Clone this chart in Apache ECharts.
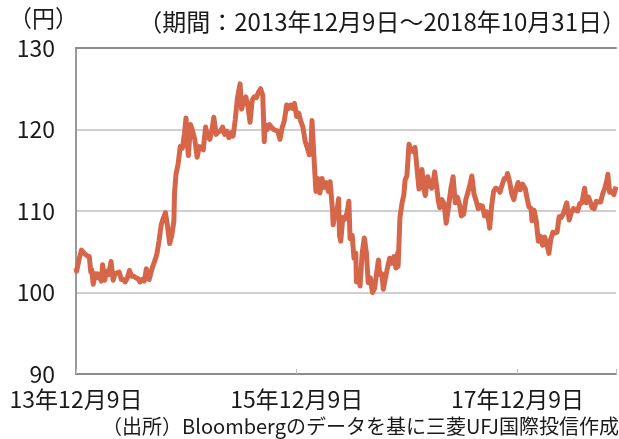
<!DOCTYPE html>
<html>
<head>
<meta charset="utf-8">
<script src="https://cdn.jsdelivr.net/npm/echarts@6/dist/echarts.min.js"></script>
<style>html,body{margin:0;padding:0;background:#fff;}#chart{width:619px;height:439px;}</style>
</head>
<body>
<div id="chart"></div>
<script>
const startDate = '2013-12-09';
const endDate = '2018-10-31';
const tickLabels = ['13年12月9日', '15年12月9日', '17年12月9日'];
const yTicks = [90, 100, 110, 120, 130];
const unitLabel = '（円）';
const periodLabel = '（期間：2013年12月9日～2018年10月31日）';
const sourceLabel = '（出所）Bloombergのデータを基に三菱UFJ国際投信作成';

const dates = [
'2013-12-09','2013-12-11','2013-12-20','2013-12-27','2014-01-02','2014-01-08','2014-01-15','2014-01-22','2014-01-27','2014-01-30',
'2014-02-04','2014-02-10','2014-02-14','2014-02-19','2014-02-24','2014-03-03','2014-03-07','2014-03-14','2014-03-20','2014-03-27',
'2014-04-04','2014-04-11','2014-04-17','2014-04-24','2014-05-01','2014-05-08','2014-05-15','2014-05-21','2014-05-28','2014-06-04',
'2014-06-11','2014-06-18','2014-06-25','2014-07-02','2014-07-09','2014-07-16','2014-07-23','2014-07-30','2014-08-08','2014-08-14',
'2014-08-20','2014-08-27','2014-09-03','2014-09-10','2014-09-17','2014-09-22','2014-09-26','2014-10-01','2014-10-08','2014-10-15',
'2014-10-22','2014-10-29','2014-10-31','2014-11-05','2014-11-12','2014-11-19','2014-11-26','2014-12-03','2014-12-08','2014-12-12',
'2014-12-16','2014-12-23','2014-12-30','2015-01-06','2015-01-14','2015-01-21','2015-01-28','2015-02-03','2015-02-11','2015-02-18',
'2015-02-25','2015-03-04','2015-03-10','2015-03-18','2015-03-25','2015-04-01','2015-04-08','2015-04-15','2015-04-22','2015-04-29',
'2015-05-06','2015-05-13','2015-05-20','2015-05-27','2015-06-05','2015-06-10','2015-06-17','2015-06-24','2015-07-01','2015-07-08',
'2015-07-15','2015-07-22','2015-07-29','2015-08-05','2015-08-12','2015-08-19','2015-08-24','2015-08-27','2015-09-03','2015-09-10',
'2015-09-17','2015-09-24','2015-10-01','2015-10-08','2015-10-15','2015-10-22','2015-10-29','2015-11-06','2015-11-13','2015-11-19',
'2015-11-26','2015-12-02','2015-12-09','2015-12-16','2015-12-23','2015-12-30','2016-01-06','2016-01-13','2016-01-20','2016-01-26',
'2016-01-29','2016-02-03','2016-02-11','2016-02-17','2016-02-24','2016-03-02','2016-03-09','2016-03-16','2016-03-23','2016-03-29',
'2016-04-06','2016-04-08','2016-04-13','2016-04-20','2016-04-26','2016-04-29','2016-05-03','2016-05-10','2016-05-17','2016-05-24',
'2016-05-30','2016-06-03','2016-06-10','2016-06-16','2016-06-22','2016-06-24','2016-06-29','2016-07-06','2016-07-13','2016-07-20',
'2016-07-27','2016-08-02','2016-08-09','2016-08-16','2016-08-23','2016-08-30','2016-09-05','2016-09-09','2016-09-16','2016-09-21',
'2016-09-27','2016-10-04','2016-10-12','2016-10-19','2016-10-26','2016-11-02','2016-11-08','2016-11-09','2016-11-15','2016-11-22',
'2016-11-28','2016-12-02','2016-12-08','2016-12-15','2016-12-20','2016-12-28','2017-01-04','2017-01-11','2017-01-17','2017-01-24',
'2017-01-27','2017-02-02','2017-02-07','2017-02-15','2017-02-22','2017-02-28','2017-03-07','2017-03-10','2017-03-16','2017-03-22',
'2017-03-27','2017-04-03','2017-04-10','2017-04-17','2017-04-24','2017-05-02','2017-05-10','2017-05-17','2017-05-24','2017-05-31',
'2017-06-06','2017-06-14','2017-06-21','2017-06-28','2017-07-05','2017-07-11','2017-07-18','2017-07-25','2017-08-01','2017-08-08',
'2017-08-15','2017-08-22','2017-08-29','2017-09-05','2017-09-08','2017-09-14','2017-09-21','2017-09-28','2017-10-05','2017-10-12',
'2017-10-19','2017-10-26','2017-11-02','2017-11-06','2017-11-13','2017-11-20','2017-11-27','2017-12-04','2017-12-11','2017-12-18',
'2017-12-26','2018-01-04','2018-01-10','2018-01-16','2018-01-23','2018-01-26','2018-02-02','2018-02-09','2018-02-16','2018-02-23',
'2018-03-02','2018-03-09','2018-03-16','2018-03-23','2018-03-29','2018-04-05','2018-04-12','2018-04-19','2018-04-26','2018-05-03',
'2018-05-10','2018-05-21','2018-05-29','2018-06-05','2018-06-12','2018-06-19','2018-06-26','2018-07-03','2018-07-10','2018-07-19',
'2018-07-25','2018-08-01','2018-08-08','2018-08-13','2018-08-20','2018-08-27','2018-09-03','2018-09-10','2018-09-17','2018-09-24',
'2018-10-01','2018-10-04','2018-10-10','2018-10-17','2018-10-24','2018-10-31'
];
const values = [
103.0,102.6,104.2,105.2,105.0,104.7,104.5,104.4,102.5,102.8,
101.0,102.3,101.8,102.3,102.4,101.4,103.4,101.5,102.6,102.2,
103.8,101.5,102.3,102.4,102.5,101.6,101.6,101.3,101.8,102.7,
102.0,102.0,101.8,101.7,101.3,101.6,101.4,102.9,101.6,102.4,
103.2,103.9,104.8,106.4,108.3,108.9,109.3,109.8,108.1,106.0,
107.0,108.8,112.2,114.5,115.8,117.9,117.7,119.5,121.4,118.5,
116.8,120.6,119.8,118.8,116.6,117.9,117.8,117.5,120.3,119.1,
118.8,120.0,121.5,119.4,119.7,119.8,120.3,119.4,119.8,119.0,
119.6,119.2,121.2,123.8,125.6,122.5,123.5,124.0,122.8,120.9,
123.6,124.0,123.9,124.6,125.0,124.2,118.5,120.6,120.0,120.6,
120.3,120.0,119.9,119.8,118.8,120.2,121.0,123.0,122.6,123.0,
122.6,123.2,121.6,122.0,121.0,120.3,118.6,117.8,116.9,118.3,
121.1,117.6,112.4,114.0,112.2,114.0,112.9,113.5,112.4,113.6,
110.0,108.3,109.4,109.8,111.5,107.0,106.3,109.2,109.0,109.8,
111.2,106.6,107.0,104.2,104.8,101.3,102.5,100.8,104.8,106.7,
104.9,101.2,101.8,100.0,100.5,102.4,104.0,102.2,102.3,100.4,
100.6,102.9,104.2,103.6,104.4,103.0,104.9,103.2,109.2,111.0,
112.0,113.8,114.3,118.2,117.6,117.3,117.8,115.0,112.7,113.5,
115.1,112.7,111.9,114.2,113.3,112.8,114.0,114.8,113.1,111.3,
110.4,111.4,110.9,108.5,110.3,112.6,114.2,111.0,111.7,110.8,
109.4,109.6,111.4,112.3,113.3,114.3,112.1,111.3,110.3,110.7,
110.6,109.4,109.9,108.7,107.9,110.5,112.4,112.8,112.7,112.3,
113.2,114.0,114.0,114.6,113.6,112.1,111.4,112.6,113.5,112.6,
113.3,112.7,111.5,110.5,110.3,108.8,110.1,108.8,106.3,106.9,
105.8,106.8,106.0,104.8,106.5,107.4,107.3,107.4,109.3,109.2,
109.7,111.0,108.9,109.8,110.3,110.1,110.0,110.9,111.0,112.8,
111.0,111.7,111.0,110.4,110.3,111.2,111.1,111.1,112.1,112.8,
113.8,114.5,112.3,112.4,112.0,113.0
];

const DAY = 86400000;
const t0 = new Date(startDate).getTime();
const dayOf = s => Math.round((new Date(s).getTime() - t0) / DAY);
const maxDay = dayOf(endDate);
const tickStep = 730.5;
const seriesData = dates.map((d, i) => [dayOf(d), values[i]]);

const FONT = '"Noto Sans CJK JP", "Noto Sans", sans-serif';
const chart = echarts.init(document.getElementById('chart'), null, {renderer: 'canvas'});
chart.setOption({
  animation: false,
  backgroundColor: '#ffffff',
  grid: {left: 76, right: 0, top: 48, bottom: 65, containLabel: false},
  graphic: [
    {type: 'text', left: 9, top: 7, style: {text: unitLabel, font: '23px ' + FONT, fill: '#1a1a1a'}},
    {type: 'text', right: -7, top: 10, style: {text: periodLabel, font: '24px ' + FONT, fill: '#1a1a1a'}},
    {type: 'text', right: 0, top: 416, style: {text: sourceLabel, font: '20px ' + FONT, fill: '#1a1a1a'}}
  ],
  xAxis: [{
    type: 'value', min: 0, max: maxDay, interval: tickStep,
    axisLine: {show: true, lineStyle: {color: '#8c8c8c', width: 2}},
    axisTick: {show: true, inside: true, length: 5, lineStyle: {color: '#bfbfbf', width: 1}},
    splitLine: {show: false},
    axisLabel: {
      show: true, margin: 14, fontSize: 23, fontFamily: FONT, color: '#1a1a1a',
      formatter: v => {
        const i = Math.round(v / tickStep);
        return (Math.abs(v - i * tickStep) < 1 && i < tickLabels.length) ? tickLabels[i] : '';
      }
    }
  }, {
    type: 'value', position: 'top', min: 0, max: maxDay,
    axisLine: {show: true, lineStyle: {color: '#8c8c8c', width: 2}},
    axisTick: {show: false}, axisLabel: {show: false}, splitLine: {show: false}
  }],
  yAxis: {
    type: 'value', min: yTicks[0], max: yTicks[yTicks.length - 1], interval: 10,
    axisLine: {show: true, lineStyle: {color: '#999999', width: 2}},
    axisTick: {show: false},
    splitLine: {show: true, lineStyle: {color: '#bfbfbf', width: 1.5}},
    axisLabel: {margin: 21, fontSize: 23, fontFamily: FONT, color: '#1a1a1a'}
  },
  series: [{
    type: 'line', xAxisIndex: 0, data: seriesData, showSymbol: false, z: 5,
    lineStyle: {color: '#d5664a', width: 5, join: 'round'}
  }]
});
</script>
</body>
</html>
